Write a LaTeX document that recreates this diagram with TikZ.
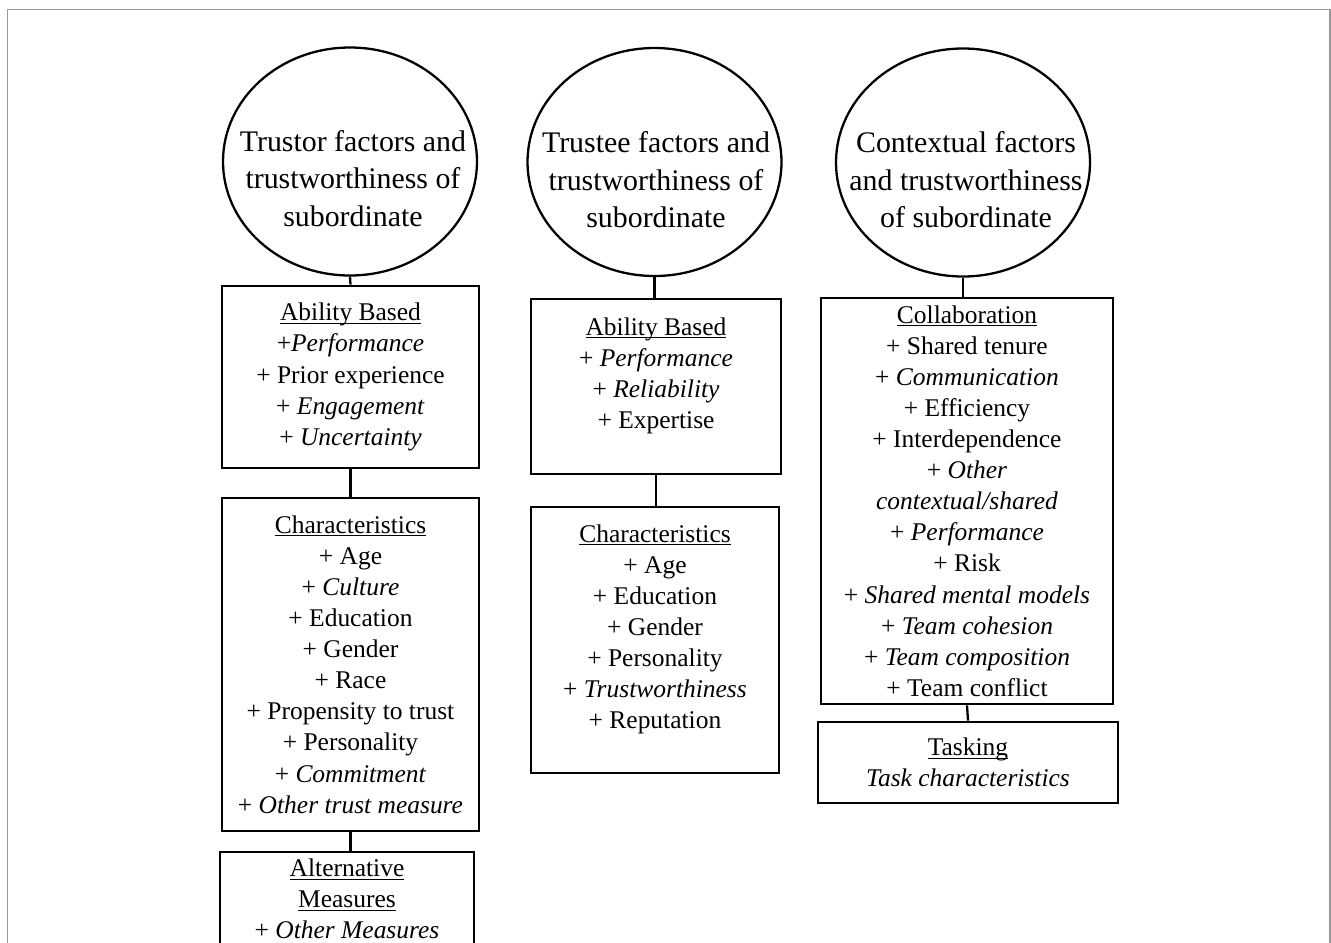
\documentclass[tikz,border=0pt]{standalone}
\usepackage{fontspec}
\setmainfont{Liberation Serif}
\usetikzlibrary{shapes.geometric}

\newcommand{\heading}[1]{\underline{\raisebox{0pt}[\height][0pt]{#1}}}

\tikzset{
  ring/.style={draw, ellipse, line width=1.3pt, minimum width=5.08cm, minimum height=4.56cm, inner sep=0pt},
  ringtext/.style={align=center, font=\fontsize{17}{21.3}\selectfont},
  group/.style={draw, line width=1.6pt, align=center, inner sep=0pt, font=\fontsize{14.5}{17.7}\selectfont},
  link/.style={line width=1.3pt}
}

\begin{document}
\begin{tikzpicture}

\useasboundingbox (0,0) rectangle (26.62,-18.84);
\clip (0,0) rectangle (26.62,-18.84);

% frame
\draw [black!40, line width=0.8pt] (0.15,-18.9) -- (0.15,-0.19) -- (26.6,-0.19) -- (26.6,-18.9);

% trustor
\node (c1) [ring] at (7.0,-3.23) {};
\node (t1) [ringtext] at (7.06,-3.57) {Trustor factors and\\trustworthiness of\\subordinate};

\node (l1) [group, minimum width=5.14cm, minimum height=3.64cm] at (7.01,-7.54)
  {\heading{Ability Based}\\+\textit{Performance}\\+ Prior experience\\+ \textit{Engagement}\\+ \textit{Uncertainty}};

\node (l2) [group, minimum width=5.14cm, minimum height=6.66cm] at (7.01,-13.29)
  {\heading{Characteristics}\\+ Age\\+ \textit{Culture}\\+ Education\\+ Gender\\+ Race\\+ Propensity to trust\\+ Personality\\+ \textit{Commitment}\\+ \textit{Other trust measure}};

\node (l3) [group, minimum width=5.08cm, minimum height=1.88cm] at (6.94,-17.98)
  {\heading{Alternative}\\\heading{Measures}\\+ \textit{Other Measures}};

% trustee
\node (c2) [ring] at (13.09,-3.24) {};
\node (t2) [ringtext] at (13.12,-3.6) {Trustee factors and\\trustworthiness of\\subordinate};

\node (m1) [group, minimum width=5.0cm, minimum height=3.5cm] at (13.12,-7.73)
  {\heading{Ability Based}\\+ \textit{Performance}\\+ \textit{Reliability}\\+ Expertise\\[-2.5pt]\mbox{}};

\node (m2) [group, minimum width=4.96cm, minimum height=5.32cm] at (13.1,-12.8)
  {\heading{Characteristics}\\+ Age\\+ Education\\+ Gender\\+ Personality\\+ \textit{Trustworthiness}\\+ Reputation\\[-2.5pt]\mbox{}};

% context
\node (c3) [ring] at (19.26,-3.25) {};
\node (t3) [ringtext] at (19.32,-3.6) {Contextual factors\\and trustworthiness\\of subordinate};

\node (r1) [group, minimum width=5.84cm, minimum height=8.12cm] at (19.34,-10.02)
  {\heading{Collaboration}\\+ Shared tenure\\+ \textit{Communication}\\+ Efficiency\\+ Interdependence\\+ \textit{Other}\\\textit{contextual/shared}\\+ \textit{Performance}\\+ Risk\\+ \textit{Shared mental models}\\+ \textit{Team cohesion}\\+ \textit{Team composition}\\+ Team conflict};

\node (r2) [group, minimum width=6.0cm, minimum height=1.62cm] at (19.36,-15.25)
  {\heading{Tasking}\\\textit{Task characteristics}};

% links
\draw [link] (c1.south) -- (l1.north);
\draw [link] (l1.south) -- (l2.north);
\draw [link] (l2.south) -- (l2.south |- l3.north);
\draw [link] (c2.south) -- (c2.south |- m1.north);
\draw [link] (m1.south) -- (m1.south |- m2.north);
\draw [link] (c3.south) -- (c3.south |- r1.north);
\draw [link] (r1.south) -- (r2.north);

\end{tikzpicture}
\end{document}
